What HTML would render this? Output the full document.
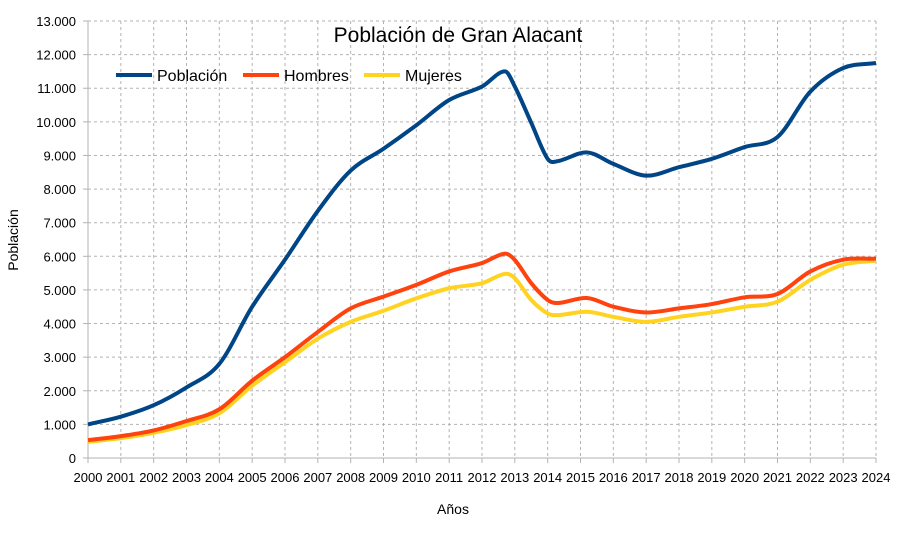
<!DOCTYPE html>
<html><head><meta charset="utf-8"><style>
body{margin:0;background:#fff;}
svg{display:block;font-family:"Liberation Sans",sans-serif;}
</style></head><body>
<svg id="c" width="917" height="545" viewBox="0 0 917 545" xmlns="http://www.w3.org/2000/svg">
<rect width="917" height="545" fill="#fff"/>
<g id="grid"></g>
<text x="458" y="42" font-size="21" text-anchor="middle" fill="#000">Población de Gran Alacant</text>
<text x="453" y="514" font-size="14" text-anchor="middle">Años</text>
<text x="18" y="240" font-size="14" text-anchor="middle" transform="rotate(-90 18 240)">Población</text>
<g id="series"></g>
<line x1="116" y1="75" x2="152" y2="75" stroke="#004586" stroke-width="4"/>
<text x="157" y="81" font-size="16">Población</text>
<line x1="243" y1="75" x2="279" y2="75" stroke="#ff420e" stroke-width="4"/>
<text x="284" y="81" font-size="16">Hombres</text>
<line x1="364" y1="75" x2="400" y2="75" stroke="#ffd320" stroke-width="4"/>
<text x="405" y="81" font-size="16">Mujeres</text>
</svg>
<script>
var X0=88,X1=876,Y0=458,PY=33.615/1000;
function X(y){return X0+(y-2000)*(X1-X0)/24;}
function Y(v){return Y0-v*PY;}
var g='',i;
for(i=0;i<=24;i++){var x=X(2000+i);
 if(i>0)g+='<line x1="'+x+'" y1="21" x2="'+x+'" y2="458" stroke="#b3b3b3" stroke-dasharray="3,3"/>';
 g+='<line x1="'+x+'" y1="458" x2="'+x+'" y2="463" stroke="#b3b3b3"/>';
 g+='<text x="'+x+'" y="482" font-size="13" text-anchor="middle">'+(2000+i)+'</text>';}
for(i=0;i<=13;i++){var y=Y(i*1000);
 if(i>0)g+='<line x1="88" y1="'+y+'" x2="876" y2="'+y+'" stroke="#b3b3b3" stroke-dasharray="3,3"/>';
 g+='<line x1="83" y1="'+y+'" x2="88" y2="'+y+'" stroke="#b3b3b3"/>';
 g+='<text x="76" y="'+(y+5)+'" font-size="13" text-anchor="end">'+(i==0?'0':i+'.000')+'</text>';}
g+='<line x1="88" y1="21" x2="88" y2="458" stroke="#b3b3b3"/><line x1="88" y1="458" x2="876" y2="458" stroke="#b3b3b3"/>';
document.getElementById('grid').innerHTML=g;
var yrs=[2000,2001,2002,2003,2004,2005,2006,2007,2008,2009,2010,2011,2012,2012.7,2013,2013.5,2014,2014.3,2015.2,2016,2017,2018,2019,2020,2021,2022,2023,2024];
var P=[1000,1230,1570,2100,2800,4500,5900,7350,8550,9200,9900,10650,11050,11500,11050,9970,8900,8830,9090,8750,8400,8650,8900,9250,9550,10900,11600,11750];
var H=[530,650,820,1100,1450,2300,3000,3750,4450,4800,5150,5550,5800,6080,5890,5200,4700,4610,4760,4500,4330,4450,4580,4780,4880,5550,5900,5930];
var M=[480,590,750,980,1330,2150,2850,3550,4050,4380,4750,5050,5200,5480,5350,4700,4300,4250,4350,4200,4050,4200,4330,4500,4650,5300,5750,5870];
function path(v){var p=yrs.map(function(t,k){return [X(t),Y(v[k])];});
 var d='M'+p[0][0]+','+p[0][1];
 for(var k=0;k<p.length-1;k++){var a=p[Math.max(k-1,0)],b=p[k],c=p[k+1],e=p[Math.min(k+2,p.length-1)];
  var h=c[0]-b[0];
  var m1=(c[1]-a[1])/(c[0]-a[0]||1), m2=(e[1]-b[1])/(e[0]-b[0]||1);
  d+=' C'+(b[0]+h/3)+','+(b[1]+m1*h/3)+' '+(c[0]-h/3)+','+(c[1]-m2*h/3)+' '+c[0]+','+c[1];}
 return d;}
var s='';
[[M,'#ffd320'],[H,'#ff420e'],[P,'#004586']].forEach(function(q){s+='<path d="'+path(q[0])+'" fill="none" stroke="'+q[1]+'" stroke-width="4" stroke-linejoin="round"/>';});
document.getElementById('series').innerHTML=s;
</script>
</body></html>
